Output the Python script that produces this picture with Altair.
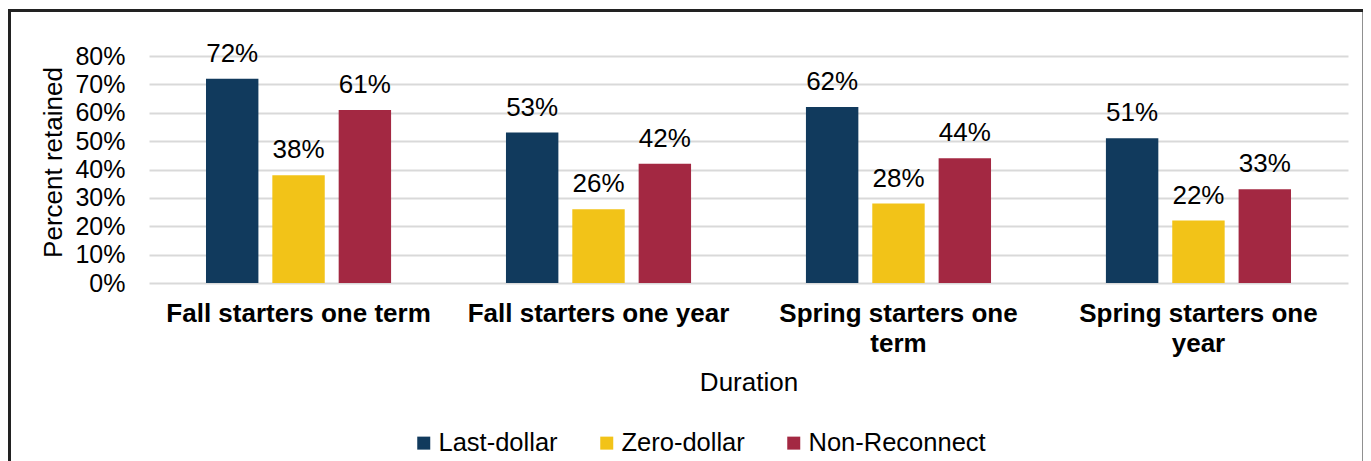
import altair as alt
import pandas as pd

categories = ["Fall starters one term", "Fall starters one year",
              "Spring starters one term", "Spring starters one year"]
series = ["Last-dollar", "Zero-dollar", "Non-Reconnect"]
last_dollar = [0.72, 0.53, 0.62, 0.51]
zero_dollar = [0.38, 0.26, 0.28, 0.22]
non_reconnect = [0.61, 0.42, 0.44, 0.33]
colors = ["#113A5D", "#F2C318", "#A32842"]
y_ticks = [0, 0.1, 0.2, 0.3, 0.4, 0.5, 0.6, 0.7, 0.8]

rows = []
for i, c in enumerate(categories):
    for s, vals in zip(series, [last_dollar, zero_dollar, non_reconnect]):
        rows.append({"Duration": c, "Series": s, "Value": vals[i]})
df = pd.DataFrame(rows)

FONT = "Liberation Sans"

label_expr = ("datum.value == 'Spring starters one term' ? ['Spring starters one', 'term'] : "
              "datum.value == 'Spring starters one year' ? ['Spring starters one', 'year'] : datum.label")

base = alt.Chart(df).encode(
    x=alt.X("Duration:N", sort=categories,
            scale=alt.Scale(paddingInner=0.383, paddingOuter=0.19),
            axis=alt.Axis(title="Duration", labelAngle=0, labelFont=FONT, labelFontSize=26,
                          labelFontWeight="bold", labelColor="#000", labelPadding=17,
                          labelLineHeight=30, labelExpr=label_expr, labelLimit=400,
                          domain=False, ticks=False,
                          titleFont=FONT, titleFontSize=26, titleFontWeight="normal",
                          titleColor="#000", titleY=107, titleBaseline="alphabetic")),
    xOffset=alt.XOffset("Series:N", sort=series,
                        scale=alt.Scale(paddingInner=0.21, paddingOuter=0)),
    y=alt.Y("Value:Q", scale=alt.Scale(domain=[0, 0.8], nice=False),
            axis=alt.Axis(values=y_ticks, format=".0%", title="Percent retained",
                          labelFont=FONT, labelFontSize=25, labelColor="#000",
                          labelPadding=24, ticks=False, domain=False,
                          grid=True, gridColor="#D9D9D9", gridWidth=2,
                          titleFont=FONT, titleFontSize=26, titleFontWeight="normal",
                          titleColor="#000", titleX=-88, titleY=106,
                          titleBaseline="alphabetic", titleAlign="center", titleAngle=-90)),
)

bars = base.mark_bar().encode(
    color=alt.Color("Series:N", sort=series,
                    scale=alt.Scale(domain=series, range=colors),
                    legend=alt.Legend(title=None, orient="none", direction="horizontal",
                                      legendX=262, legendY=374, columns=3,
                                      symbolType="square", symbolSize=169,
                                      symbolStrokeWidth=0, labelFont=FONT,
                                      labelFontSize=25.5, labelColor="#000",
                                      labelOffset=2, columnPadding=36, labelLimit=300))
)

labels = base.mark_text(font=FONT, fontSize=26, color="#000",
                        baseline="alphabetic", dy=-17).encode(
    text=alt.Text("Value:Q", format=".0%")
)

border = alt.Chart(pd.DataFrame({"a": [0]})).mark_rect(
    fill=None, stroke="#222222", strokeWidth=3, clip=False
).encode(
    x=alt.value(-139.5), x2=alt.value(1215), y=alt.value(-45.5), y2=alt.value(600)
)

chart = alt.layer(bars, labels, border).properties(
    width=1199, height=227,
    autosize=alt.AutoSizeParams(type="none"),
    padding={"left": 141, "top": 48, "right": 15, "bottom": 190},
).configure_view(stroke=None)

chart.save("out.html", embed_options={"renderer": "svg", "actions": False})
